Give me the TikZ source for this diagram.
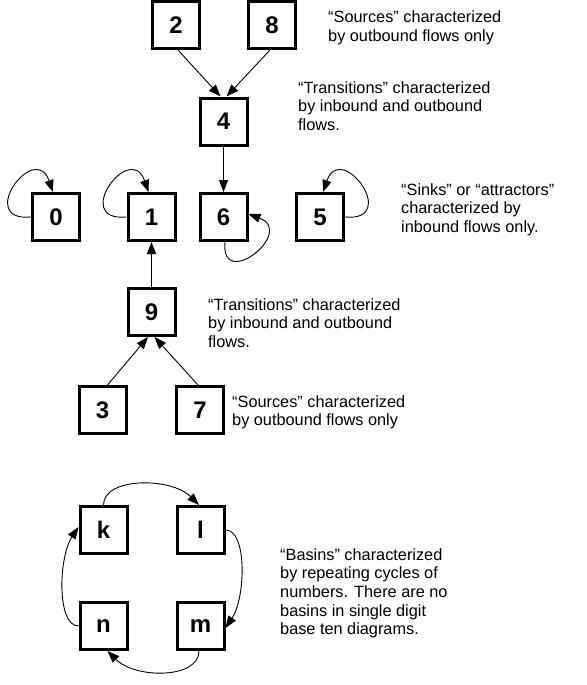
\documentclass[tikz,border=0pt]{standalone}
\usepackage{fontspec}
\setmainfont{Liberation Sans}
\usetikzlibrary{arrows.meta}
\begin{document}
\begin{tikzpicture}[x=1pt,y=-1pt,
  numbox/.style={draw, line width=3pt, minimum size=47pt, inner sep=0pt,
    font=\fontsize{24}{24}\selectfont\bfseries},
  flow/.style={line width=0.9pt, -{Triangle[length=12pt,width=9pt]}},
  note/.style={anchor=base west, align=left, inner sep=0pt,
    font=\fontsize{16.3}{18.7}\selectfont}]
\path[fill=white, use as bounding box] (0,0) rectangle (586,685);

% boxes
\node[numbox] (n2) at (176,25) {2};
\node[numbox] (n8) at (272,25) {8};
\node[numbox] (n4) at (223.5,121.5) {4};
\node[numbox] (n0) at (56,217) {0};
\node[numbox] (n1) at (151.5,217) {1};
\node[numbox] (n6) at (223.5,217) {6};
\node[numbox] (n5) at (320,217) {5};
\node[numbox] (n9) at (151.5,312) {9};
\node[numbox] (n3) at (102.5,410) {3};
\node[numbox] (n7) at (200,410) {7};
\node[numbox] (nk) at (103.5,530) {k};
\node[numbox] (nl) at (200.5,530) {l};
\node[numbox] (nn) at (103.5,626) {n};
\node[numbox] (nm) at (200.5,626) {m};

% notes (anchored at the baseline of their last line)
\node[note] (t1) at (328,41.7) {“Sources” characterized\\by outbound flows only};
\node[note] (t2) at (298,130.4) {“Transitions” characterized\\by inbound and outbound\\flows.};
\node[note] (t3) at (401,232.4) {“Sinks” or “attractors”\\characterized by\\inbound flows only.};
\node[note] (t4) at (208,347.4) {“Transitions” characterized\\by inbound and outbound\\flows.};
\node[note] (t5) at (232,425.7) {“Sources” characterized\\by outbound flows only};
\node[note] (t6) at (280,634.8) {“Basins” characterized\\by repeating cycles of\\numbers. There are no\\basins in single digit\\base ten diagrams.};

% straight flows
\draw[flow] ([xshift=2pt]n2.south) -- ([xshift=-3pt]n4.north);
\draw[flow] ([xshift=-2pt]n8.south) -- ([xshift=3pt]n4.north);
\draw[flow] (n4) -- (n6);
\draw[flow] (n9) -- (n1);
\draw[flow] ([xshift=5pt]n3.north) -- ([xshift=-3.5pt]n9.south);
\draw[flow] ([xshift=-2pt]n7.north) -- ([xshift=3pt]n9.south);

% self loops
\draw[flow] (n0.west) .. controls +(-56,5) and +(-18,-52) .. ([xshift=-3pt]n0.north);
\draw[flow] (n1.west) .. controls +(-56,5) and +(-18,-52) .. ([xshift=-3pt]n1.north);
\draw[flow] (n5.east) .. controls +(56,5) and +(18,-52) .. ([xshift=3pt]n5.north);
\draw[flow] ([xshift=1.5pt]n6.south) .. controls +(-5,50) and +(48,18) .. ([yshift=3pt]n6.east);

% basin cycle
\draw[flow] (nk.north) .. controls +(0,-28) and +(-28,-28) .. ([xshift=-1.5pt]nl.north);
\draw[flow] (nl.east) .. controls +(22,0) and +(20,-30) .. ([yshift=-2pt]nm.east);
\draw[flow] ([xshift=-1.5pt]nm.south) .. controls +(0,28) and +(28,28) .. ([xshift=4pt]nn.south);
\draw[flow] (nn.west) .. controls +(-22,0) and +(-20,30) .. ([yshift=3pt]nk.west);
\end{tikzpicture}
\end{document}
